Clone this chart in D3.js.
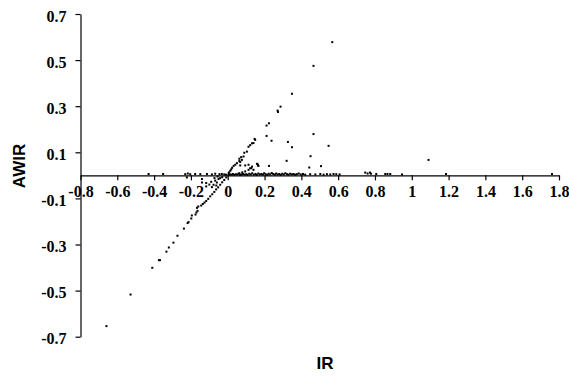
<!DOCTYPE html>
<html>
<head>
<meta charset="utf-8">
<script src="https://cdn.jsdelivr.net/npm/d3@7"></script>
<style>
  body { margin: 0; background: #fff; }
</style>
</head>
<body>
<div id="chart"></div>
<script>
// [IR, AWIR] pairs
const upperLine = [
  [0.568, 0.578], [0.466, 0.475], [0.349, 0.354], [0.287, 0.298], [0.273, 0.275],
  [0.271, 0.281], [0.224, 0.226], [0.211, 0.216], [0.149, 0.154], [0.146, 0.158],
  [0.140, 0.140], [0.132, 0.139], [0.122, 0.131], [0.113, 0.124], [0.104, 0.103],
  [0.090, 0.098], [0.086, 0.082], [0.077, 0.067], [0.073, 0.079], [0.068, 0.058],
  [0.063, 0.072], [0.063, 0.062], [0.050, 0.053], [0.041, 0.046], [0.032, 0.041],
  [0.024, 0.033], [0.019, 0.026], [0.014, 0.020], [0.008, 0.013], [0.005, 0.009]
];
const offLine = [
  [0.211, 0.171], [0.238, 0.150], [0.466, 0.179], [0.327, 0.145], [0.349, 0.122],
  [0.548, 0.128], [0.320, 0.063], [0.450, 0.083], [0.224, 0.041], [0.443, 0.034],
  [0.507, 0.040], [0.159, 0.050], [0.167, 0.041], [1.091, 0.067]
];
const middleRay = [
  [0.164, 0.047], [0.128, 0.031], [0.113, 0.024], [0.095, 0.017], [0.140, 0.024],
  [0.079, 0.013], [0.063, 0.009], [0.068, 0.043], [0.095, 0.043], [0.113, 0.046],
  [0.122, 0.031], [0.132, 0.038], [0.164, 0.043]
];
const lowerLine = [
  [-0.659, -0.654], [-0.528, -0.517], [-0.410, -0.401], [-0.374, -0.368], [-0.368, -0.368],
  [-0.333, -0.331], [-0.320, -0.313], [-0.295, -0.292], [-0.273, -0.262], [-0.238, -0.231],
  [-0.218, -0.207], [-0.213, -0.203], [-0.198, -0.187], [-0.195, -0.174], [-0.175, -0.170],
  [-0.170, -0.161], [-0.164, -0.154], [-0.167, -0.141], [-0.160, -0.135], [-0.144, -0.131],
  [-0.135, -0.124], [-0.126, -0.118], [-0.117, -0.111], [-0.106, -0.102], [-0.095, -0.091],
  [-0.084, -0.082], [-0.073, -0.072], [-0.063, -0.061], [-0.052, -0.052], [-0.041, -0.041],
  [-0.030, -0.030], [-0.019, -0.020], [-0.008, -0.009]
];
const lowerScatter = [
  [-0.068, -0.023], [-0.059, -0.031], [-0.077, -0.041], [-0.086, -0.051], [-0.050, -0.016],
  [-0.041, -0.012], [-0.117, -0.033], [-0.117, -0.048], [-0.222, -0.009], [-0.140, -0.016],
  [-0.140, -0.031], [-0.030, -0.008], [-0.055, -0.005], [-0.090, -0.028], [-0.062, -0.044],
  [-0.100, -0.040], [-0.072, -0.012]
];
const axisLeft = [
  [-0.430, 0.006], [-0.351, 0.006], [-0.231, 0.005], [-0.217, 0.008], [-0.204, 0.005],
  [-0.177, 0.006], [-0.149, 0.005], [-0.113, 0.006], [-0.086, 0.004], [-0.068, 0.007],
  [-0.045, 0.005], [-0.032, 0.006], [-0.019, 0.004], [-0.010, 0.003]
];
const axisRight = [
  [0.004, 0.002], [0.012, 0.004], [0.021, 0.003], [0.028, 0.006], [0.036, 0.002],
  [0.044, 0.005], [0.052, 0.003], [0.058, 0.007], [0.067, 0.002], [0.075, 0.004],
  [0.083, 0.006], [0.092, 0.003], [0.101, 0.005], [0.108, 0.002], [0.117, 0.007],
  [0.125, 0.004], [0.133, 0.009], [0.142, 0.003], [0.151, 0.006], [0.158, 0.002],
  [0.166, 0.008], [0.174, 0.004], [0.183, 0.006], [0.191, 0.003], [0.198, 0.009],
  [0.206, 0.005], [0.215, 0.002], [0.222, 0.007], [0.231, 0.004], [0.239, 0.010],
  [0.247, 0.006], [0.256, 0.003], [0.263, 0.008], [0.271, 0.004], [0.280, 0.006],
  [0.288, 0.002], [0.296, 0.007], [0.305, 0.004], [0.313, 0.009], [0.322, 0.005],
  [0.330, 0.003], [0.339, 0.007], [0.348, 0.004], [0.357, 0.006], [0.366, 0.003],
  [0.376, 0.005], [0.386, 0.008], [0.397, 0.004], [0.409, 0.006], [0.421, 0.003],
  [0.448, 0.005], [0.476, 0.004], [0.503, 0.006], [0.521, 0.003], [0.539, 0.005],
  [0.557, 0.004], [0.575, 0.006], [0.590, 0.005], [0.608, 0.004], [0.747, 0.012],
  [0.760, 0.008], [0.773, 0.012], [0.778, 0.007], [0.807, 0.006], [0.856, 0.006],
  [0.868, 0.006], [0.883, 0.006], [0.947, 0.004], [1.186, 0.006], [1.762, 0.006]
];

const xTicks = [-0.8, -0.6, -0.4, -0.2, 0, 0.2, 0.4, 0.6, 0.8, 1, 1.2, 1.4, 1.6, 1.8];
const xTickLabels = ['-0.8', '-0.6', '-0.4', '-0.2', '0', '0.2', '0.4', '0.6', '0.8', '1', '1.2', '1.4', '1.6', '1.8'];
const yTicks = [0.7, 0.5, 0.3, 0.1, -0.1, -0.3, -0.5, -0.7];
const yTickLabels = ['0.7', '0.5', '0.3', '0.1', '-0.1', '-0.3', '-0.5', '-0.7'];

const width = 569, height = 378;
const serif = '"Liberation Serif", "Times New Roman", serif';
const sans = '"Liberation Sans", Arial, sans-serif';

const svg = d3.select('#chart').append('svg')
  .attr('width', width)
  .attr('height', height);

const x = d3.scaleLinear().domain([-0.8, 1.8]).range([80.5, 559]);
const y = d3.scaleLinear().domain([-0.7, 0.7]).range([336.7, 14]);

// y axis on the left edge of the plot
const yAxis = d3.axisLeft(y)
  .tickValues(yTicks)
  .tickSize(5)
  .tickSizeOuter(0)
  .tickFormat((d, i) => yTickLabels[i]);

const axisY = svg.append('g')
  .attr('transform', 'translate(' + x(-0.8) + ',0)')
  .call(yAxis);
axisY.select('path').attr('stroke', '#000').attr('stroke-width', 1.2);
axisY.selectAll('g.tick line').attr('stroke', '#000').attr('stroke-width', 1.2);
axisY.selectAll('g.tick text')
  .style('font-family', serif)
  .style('font-weight', 'bold')
  .style('font-size', '16px')
  .attr('fill', '#000')
  .attr('x', -14)
  .attr('dy', '0.45em');

// x axis crosses at AWIR = 0
const xAxis = d3.axisBottom(x)
  .tickValues(xTicks)
  .tickSize(5)
  .tickSizeOuter(0)
  .tickFormat((d, i) => xTickLabels[i]);

const axisX = svg.append('g')
  .attr('transform', 'translate(0,' + y(0) + ')')
  .call(xAxis);
axisX.select('path').attr('stroke', '#000').attr('stroke-width', 1.2);
axisX.selectAll('g.tick line').attr('stroke', '#000').attr('stroke-width', 1.2);
axisX.selectAll('g.tick text')
  .style('font-family', serif)
  .style('font-weight', 'bold')
  .style('font-size', '16px')
  .attr('fill', '#000')
  .attr('y', 10)
  .attr('dy', '0.71em');

// points
const allPoints = [].concat(upperLine, offLine, middleRay, lowerLine, lowerScatter, axisLeft, axisRight);
svg.append('g').selectAll('rect')
  .data(allPoints)
  .enter().append('rect')
  .attr('x', d => x(d[0]) - 1)
  .attr('y', d => y(d[1]) - 1)
  .attr('width', 2)
  .attr('height', 2)
  .attr('fill', '#000');

// axis titles
svg.append('text')
  .style('font-family', sans)
  .style('font-weight', 'bold')
  .style('font-size', '17px')
  .attr('text-anchor', 'middle')
  .attr('transform', 'translate(25,166) rotate(-90)')
  .text('AWIR');

svg.append('text')
  .style('font-family', sans)
  .style('font-weight', 'bold')
  .style('font-size', '17px')
  .attr('text-anchor', 'middle')
  .attr('x', 325)
  .attr('y', 369)
  .text('IR');
</script>
</body>
</html>
